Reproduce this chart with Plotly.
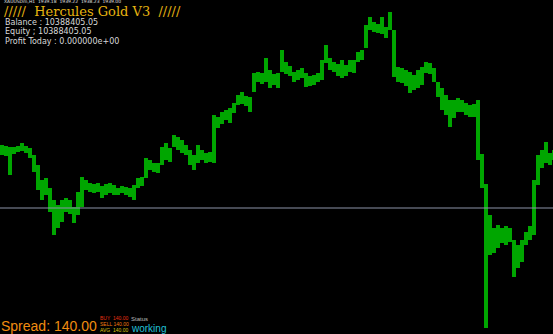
import plotly.graph_objects as go

W, H = 553, 334

# Price bars (arbitrary price units, one bar per ~4 px column)
bar_high = [189, 188, 187, 187, 188, 191, 188, 186, 179, 169, 154, 156, 146, 134, 129, 134,
            136, 134, 127, 142, 157, 154, 151, 150, 151, 148, 150, 151, 149, 146, 148, 147,
            146, 149, 156, 157, 176, 174, 171, 171, 187, 191, 186, 199, 197, 194, 189, 184,
            179, 189, 184, 181, 182, 219, 217, 222, 224, 226, 231, 239, 242, 238, 237, 261,
            262, 261, 276, 264, 260, 261, 284, 272, 268, 262, 264, 266, 261, 258, 259, 261,
            274, 289, 276, 272, 270, 274, 269, 274, 274, 282, 284, 309, 317, 312, 310, 317,
            307, 322, 304, 267, 266, 264, 262, 259, 264, 267, 272, 271, 266, 252, 246, 239,
            234, 234, 236, 234, 231, 229, 230, 234, 180, 150, 119, 106, 109, 106, 108, 106,
            94, 89, 94, 102, 108, 154, 179, 184, 192, 181, 184]
bar_low = [179, 178, 159, 180, 182, 183, 181, 176, 162, 144, 134, 139, 122, 99, 106, 112,
           122, 120, 111, 119, 127, 144, 142, 141, 142, 136, 139, 141, 139, 139, 141, 139,
           137, 134, 146, 148, 156, 164, 162, 161, 169, 174, 172, 187, 184, 181, 179, 169,
           164, 171, 174, 171, 172, 171, 206, 210, 214, 211, 221, 229, 230, 228, 222, 242,
           252, 250, 252, 246, 249, 246, 262, 260, 258, 252, 254, 256, 247, 248, 249, 252,
           254, 271, 264, 262, 258, 256, 258, 262, 261, 272, 274, 286, 304, 302, 301, 300,
           296, 304, 257, 252, 251, 248, 241, 244, 246, 249, 261, 260, 252, 237, 224, 219,
           207, 216, 222, 222, 219, 217, 217, 174, 146, 6, 79, 81, 86, 91, 89, 92,
           57, 66, 72, 89, 94, 99, 149, 166, 171, 169, 174]
level_line = 126

bars = list(range(len(bar_high)))

fig = go.Figure()
fig.add_trace(go.Bar(
    x=bars,
    y=[h - l for h, l in zip(bar_high, bar_low)],
    base=bar_low,
    marker=dict(color="#00A600", line=dict(width=0)),
    width=1.0,
    hoverinfo="skip",
))

fig.add_hline(y=level_line, line=dict(color="#8C93A8", width=1))

fig.update_layout(
    width=W, height=H,
    margin=dict(l=0, r=0, t=0, b=0),
    paper_bgcolor="#000000", plot_bgcolor="#000000",
    showlegend=False, bargap=0,
    xaxis=dict(range=[-0.5, 137.75], visible=False, fixedrange=True),
    yaxis=dict(range=[0, H], visible=False, fixedrange=True),
)

def px(x):
    return x / W

def py(y):
    return 1 - y / H

def label(text, x, y, size, color, family="DejaVu Sans", xanchor="left"):
    fig.add_annotation(text=text, x=px(x), y=py(y), xref="paper", yref="paper",
                       xanchor=xanchor, yanchor="middle", showarrow=False,
                       font=dict(size=size, color=color, family=family))

label("XAUUSDm,H1  1939.18  1939.22  1938.23  1939.00", 2, 1.5, 4.5, "#E0E0E0")
label("/////  Hercules Gold V3  /////", 2, 12, 13, "#E6B410", family="DejaVu Serif")
label("Balance : 10388405.05", 3, 22.5, 8, "#D8D8D8")
label("Equity ; 10388405.05", 3, 32, 8, "#D8D8D8")
label("Profit Today : 0.000000e+00", 3, 41.5, 8, "#D8D8D8")

label("Spread: 140.00", -1, 326, 14, "#F08C10", family="Liberation Sans")
label("BUY  140.00", 98, 318, 5, "#E83010", family="Liberation Sans")
label("SELL 140.00", 98, 324, 5, "#F07810", family="Liberation Sans")
label("AVG  140.00", 98, 330, 5, "#D8C010", family="Liberation Sans")
label("Status", 129, 318.5, 6, "#B8B8B8", family="Liberation Sans")
label("working", 129, 328.5, 10, "#20C0D8", family="Liberation Sans")

fig.write_html("out.html")
